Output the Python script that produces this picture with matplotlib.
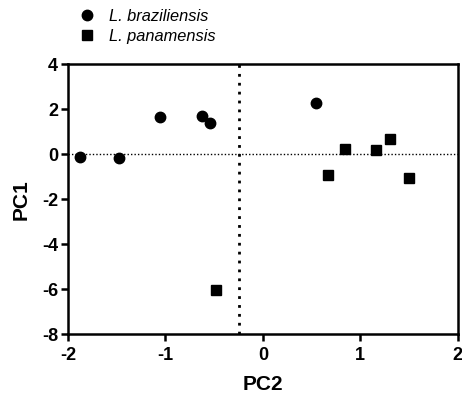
import matplotlib
matplotlib.use("Agg")
import matplotlib.pyplot as plt
from matplotlib.lines import Line2D

plt.rcParams['font.family'] = ['Liberation Sans', 'DejaVu Sans']
plt.rcParams['axes.unicode_minus'] = False

braz_x = [-1.88, -1.48, -1.06, -0.62, -0.54, 0.54]
braz_y = [-0.11, -0.15, 1.66, 1.69, 1.39, 2.28]
pan_x = [0.84, 1.16, 1.30, 0.67, 1.50, -0.48]
pan_y = [0.25, 0.18, 0.67, -0.92, -1.07, -6.03]
vline_x = -0.25
xticks = [-2, -1, 0, 1, 2]
yticks = [-8, -6, -4, -2, 0, 2, 4]
labels = ["L. braziliensis", "L. panamensis"]

fig = plt.figure(figsize=(4.62, 3.94), dpi=100)
ax = fig.add_axes([0.147, 0.1515, 0.844, 0.6853])

ax.axhline(0, color='black', lw=1.0, ls=(0, (1, 1.5)), zorder=1)
ax.axvline(vline_x, color='black', lw=2.0, ls=(0, (1, 2.2)), zorder=1)

ax.plot(braz_x, braz_y, 'o', color='black', ms=7.5, ls='none', zorder=3)
ax.plot(pan_x, pan_y, 's', color='black', ms=6.8, ls='none', zorder=3)

ax.set_xlim(-2, 2)
ax.set_ylim(-8, 4)
ax.set_xticks(xticks)
ax.set_yticks(yticks)
for s in ax.spines.values():
    s.set_linewidth(1.8)
ax.tick_params(direction='out', length=5, width=1.8, labelsize=13, pad=2)
ax.tick_params(axis='x', pad=4)
for t in ax.get_xticklabels() + ax.get_yticklabels():
    t.set_fontweight('bold')

ax.set_xlabel('PC2', fontsize=15, fontweight='bold', labelpad=8)
ax.set_ylabel('PC1', fontsize=15, fontweight='bold', labelpad=8)

handles = [Line2D([], [], marker='o', color='black', ls='none', ms=7.5),
           Line2D([], [], marker='s', color='black', ls='none', ms=6.8)]
leg = fig.legend(handles, labels, loc='upper left', bbox_to_anchor=(0.135, 1.015),
                 frameon=False, prop={'style': 'italic', 'size': 11.8},
                 handletextpad=0.75, labelspacing=0.3, handlelength=1.2)

fig.savefig('out.png', dpi=100)
